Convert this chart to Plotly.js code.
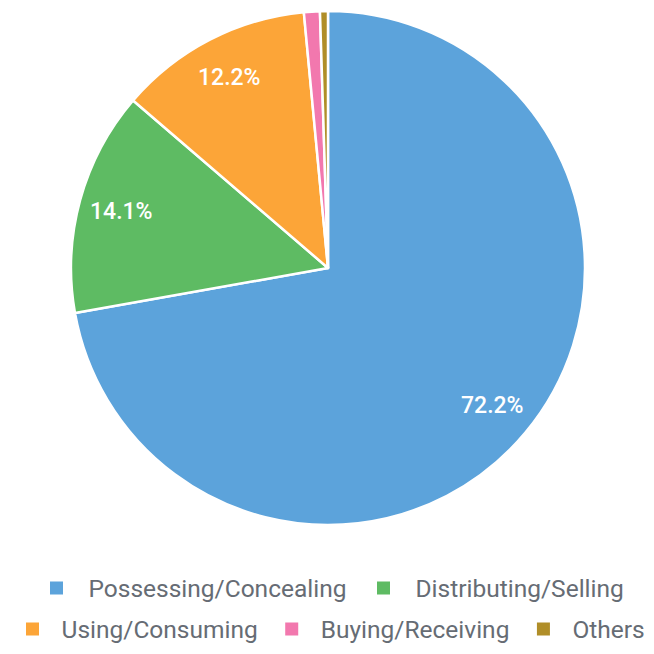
<!DOCTYPE html>
<html><head><meta charset="utf-8">
<script src="https://cdn.plot.ly/plotly-3.0.1.min.js"></script>
<style>html,body{margin:0;padding:0;background:#fff}#chart{width:654px;height:654px}</style>
</head><body><div id="chart"></div>
<script>
const categories = ["Possessing/Concealing","Distributing/Selling","Using/Consuming","Buying/Receiving","Others"];
const shares = [72.2, 14.1, 12.2, 1.0, 0.5];
const colors = ["#5ca3db","#5ebb63","#fca538","#f278ae","#b08e28"];
const legendRow = ["legend","legend","legend2","legend2","legend2"];

const W = 654, H = 654;
const CX = 328, CY = 268, R = 255;   // pie geometry in pixels
const half = 257;                    // domain half-size (plotly shrinks slightly)

const pie = {
  type: "pie",
  labels: categories,
  values: shares,
  sort: false,
  direction: "clockwise",
  rotation: 0,
  marker: {colors: colors, line: {color: "#fff", width: 2.5}},
  textinfo: "none",
  showlegend: false,
  domain: {x: [(CX - half) / W, (CX + half) / W], y: [1 - (CY + half) / H, 1 - (CY - half) / H]},
  hoverinfo: "none"
};

// legend entries (two centred rows)
const legendTraces = categories.map((c, i) => ({
  type: "scatter", mode: "markers", x: [null], y: [null], name: c,
  marker: {symbol: "square", size: 13, color: colors[i]},
  legend: legendRow[i], showlegend: true, hoverinfo: "none"
}));

// percentage labels for the large slices, placed from the data
const total = shares.reduce((a, b) => a + b, 0);
const annotations = [];
let cum = 0;
shares.forEach((v, i) => {
  const mid = (cum + v / 2) / total;
  cum += v;
  if (v / total < 0.05) return;
  const th = mid * 2 * Math.PI;
  const k = 0.84 * R;
  const px = CX + k * Math.sin(th), py = CY - k * Math.cos(th);
  annotations.push({
    xref: "paper", yref: "paper", x: px / W, y: 1 - py / H,
    xanchor: "center", yanchor: "middle", showarrow: false,
    text: (v / total * 100).toFixed(1) + "%",
    font: {family: "Roboto", size: 23, color: "#fff", weight: 500}
  });
});

const legendFont = {family: "Roboto", size: 24.5, color: "#666c74"};
Plotly.newPlot("chart", [pie, ...legendTraces], {
  width: W, height: H,
  margin: {l: 0, r: 0, t: 0, b: 0},
  paper_bgcolor: "#fff", plot_bgcolor: "rgba(0,0,0,0)",
  xaxis: {visible: false}, yaxis: {visible: false},
  showlegend: true,
  legend: {orientation: "h", x: 0.5, xanchor: "center", y: 1 - 588 / H, yanchor: "middle",
    font: legendFont, itemwidth: 54, bgcolor: "rgba(0,0,0,0)", borderwidth: 0},
  legend2: {orientation: "h", x: 0.5, xanchor: "center", y: 1 - 629 / H, yanchor: "middle",
    font: legendFont, itemwidth: 48, bgcolor: "rgba(0,0,0,0)", borderwidth: 0},
  annotations: annotations
}, {displayModeBar: false, staticPlot: true});
</script></body></html>
